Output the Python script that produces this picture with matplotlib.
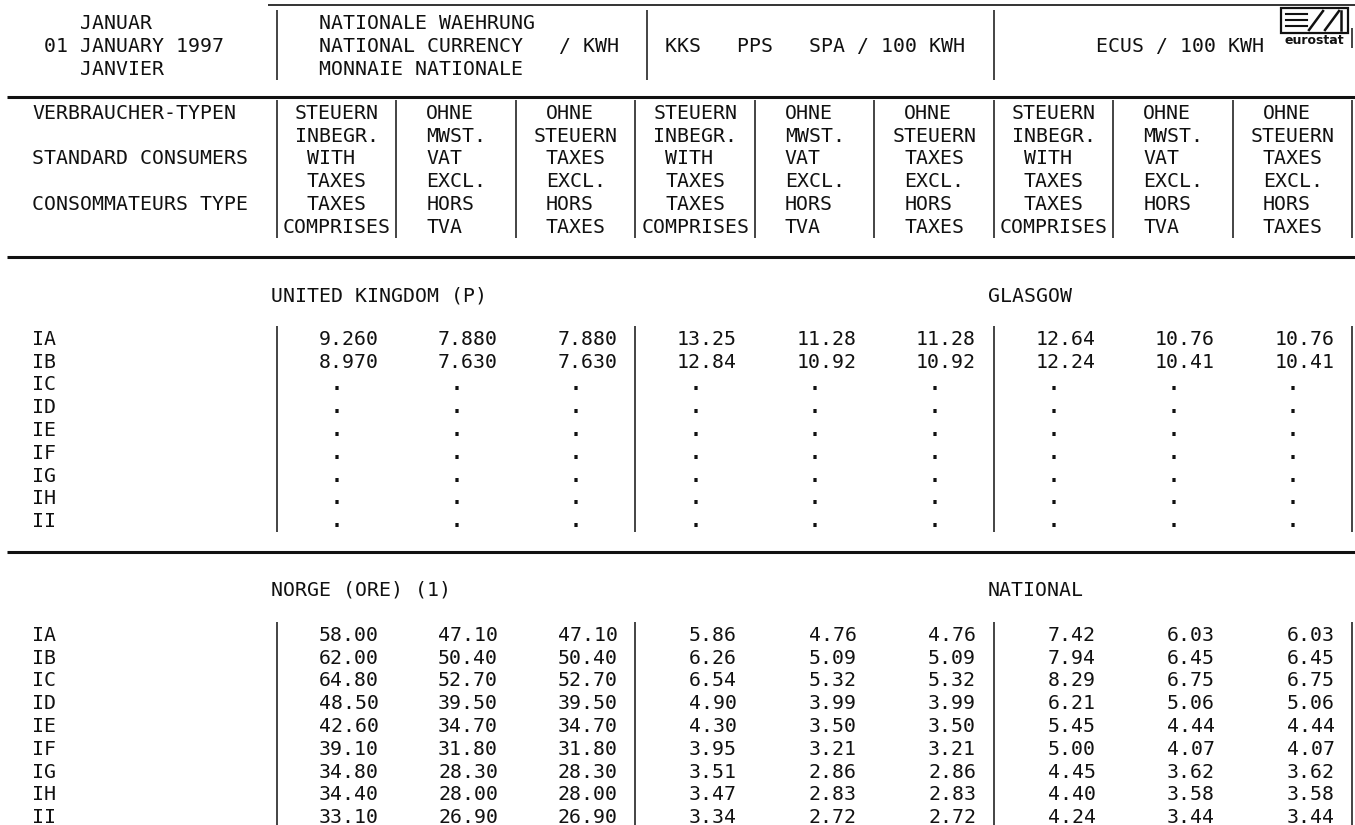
import matplotlib
matplotlib.use('Agg')
import matplotlib.pyplot as plt
from matplotlib.patches import Rectangle

# consumer types and prices (1 January 1997)
consumer_types = ['IA', 'IB', 'IC', 'ID', 'IE', 'IF', 'IG', 'IH', 'II']

# United Kingdom (P) - Glasgow, only IA and IB reported
uk_nat_with = [9.260, 8.970, None, None, None, None, None, None, None]
uk_nat_novat = [7.880, 7.630, None, None, None, None, None, None, None]
uk_nat_notax = [7.880, 7.630, None, None, None, None, None, None, None]
uk_pps_with = [13.25, 12.84, None, None, None, None, None, None, None]
uk_pps_novat = [11.28, 10.92, None, None, None, None, None, None, None]
uk_pps_notax = [11.28, 10.92, None, None, None, None, None, None, None]
uk_ecu_with = [12.64, 12.24, None, None, None, None, None, None, None]
uk_ecu_novat = [10.76, 10.41, None, None, None, None, None, None, None]
uk_ecu_notax = [10.76, 10.41, None, None, None, None, None, None, None]

# Norge (ORE) (1) - national
no_nat_with = [58.00, 62.00, 64.80, 48.50, 42.60, 39.10, 34.80, 34.40, 33.10]
no_nat_novat = [47.10, 50.40, 52.70, 39.50, 34.70, 31.80, 28.30, 28.00, 26.90]
no_nat_notax = [47.10, 50.40, 52.70, 39.50, 34.70, 31.80, 28.30, 28.00, 26.90]
no_pps_with = [5.86, 6.26, 6.54, 4.90, 4.30, 3.95, 3.51, 3.47, 3.34]
no_pps_novat = [4.76, 5.09, 5.32, 3.99, 3.50, 3.21, 2.86, 2.83, 2.72]
no_pps_notax = [4.76, 5.09, 5.32, 3.99, 3.50, 3.21, 2.86, 2.83, 2.72]
no_ecu_with = [7.42, 7.94, 8.29, 6.21, 5.45, 5.00, 4.45, 4.40, 4.24]
no_ecu_novat = [6.03, 6.45, 6.75, 5.06, 4.44, 4.07, 3.62, 3.58, 3.44]
no_ecu_notax = [6.03, 6.45, 6.75, 5.06, 4.44, 4.07, 3.62, 3.58, 3.44]

date_lines = ['JANUAR', '01 JANUARY 1997', 'JANVIER']
unit_nat = ['NATIONALE WAEHRUNG', 'NATIONAL CURRENCY   / KWH', 'MONNAIE NATIONALE']
unit_pps = 'KKS   PPS   SPA / 100 KWH'
unit_ecu = 'ECUS / 100 KWH'
consumer_labels = ['VERBRAUCHER-TYPEN', '', 'STANDARD CONSUMERS', '', 'CONSOMMATEURS TYPE', '']
hdr_with = ['STEUERN', 'INBEGR.', 'WITH', 'TAXES', 'TAXES', 'COMPRISES']
hdr_novat = ['OHNE', 'MWST.', 'VAT', 'EXCL.', 'HORS', 'TVA']
hdr_notax = ['OHNE', 'STEUERN', 'TAXES', 'EXCL.', 'HORS', 'TAXES']

# --- layout: line printer grid ---
X0, PITCH, DPI = 32, 11.95, 100
FS = PITCH / (0.602 * DPI / 72)
MONO = 'DejaVu Sans Mono'
INK = '#111111'


def xl(c):
    return X0 + PITCH * c


def xc(c):
    return X0 + PITCH * (c + 0.5)


fig = plt.figure(figsize=(13.55, 8.25), dpi=DPI)
ax = fig.add_axes([0, 0, 1, 1])
ax.set_xlim(0, 1355)
ax.set_ylim(825, 0)
ax.axis('off')


def put(col, y, s, right=False, weight='normal'):
    x = xl(col + 1) if right else xl(col)
    ax.text(x, y + 7, s, family=MONO, fontsize=FS, color=INK, fontweight=weight,
            ha='right' if right else 'left', va='baseline')


def vbar(col, y0, y1):
    ax.plot([xc(col), xc(col)], [y0, y1], color=INK, lw=1.1, solid_capstyle='butt')


def hline(y, x0, x1, lw=2.2):
    ax.plot([x0, x1], [y, y], color=INK, lw=lw, solid_capstyle='butt')


# top header
top_rows = [22, 45, 68]
put(4, top_rows[0], date_lines[0])
put(1, top_rows[1], date_lines[1])
put(4, top_rows[2], date_lines[2])
for y, s in zip(top_rows, unit_nat):
    put(24, y, s)
put(53, top_rows[1], unit_pps)
put(89, top_rows[1], unit_ecu)
for c in [20, 51, 80]:
    vbar(c, 10, 80)
vbar(110, 28, 48)
hline(5, 268, 1355, lw=1.2)
hline(97, 7, 1355)

# eurostat logo
ax.add_patch(Rectangle((1281, 8), 67, 25, fill=False, ec=INK, lw=1.6))
for yy in [14, 20, 26]:
    ax.plot([1286, 1307], [yy, yy], color=INK, lw=1.5)
ax.plot([1309, 1323], [30, 11], color=INK, lw=1.8)
ax.plot([1325, 1339], [30, 11], color=INK, lw=1.8)
ax.plot([1341, 1341], [11, 30], color=INK, lw=1.8)
ax.text(1314, 40, 'eurostat', family='DejaVu Sans', fontsize=9, fontweight='bold',
        color=INK, ha='center', va='center')

# column headers
hdr_rows = [112 + 22.75 * i for i in range(6)]
off_with = [2, 2, 3, 3, 3, 1]
off_novat = [3, 3, 3, 3, 3, 3]
off_notax = [3, 2, 3, 3, 3, 3]
for i, y in enumerate(hdr_rows):
    if consumer_labels[i]:
        put(0, y, consumer_labels[i])
    for B in [20, 50, 80]:
        put(B + off_with[i], y, hdr_with[i])
        put(B + 10 + off_novat[i], y, hdr_novat[i])
        put(B + 20 + off_notax[i], y, hdr_notax[i])
for c in range(20, 111, 10):
    vbar(c, hdr_rows[0] - 12, hdr_rows[-1] + 12)
hline(257, 7, 1355)


def block(title_y, title_l, title_r, first_y, cols, fmts):
    put(20, title_y, title_l)
    put(80, title_y, title_r)
    ys = [first_y + 22.75 * i for i in range(len(consumer_types))]
    for y, lab in zip(ys, consumer_types):
        put(0, y, lab)
    for k, (vals, fmt) in enumerate(zip(cols, fmts)):
        end_col = 28 + 10 * k
        for y, v in zip(ys, vals):
            if v is None:
                put(end_col - 3, y, '.', weight='bold')
            else:
                put(end_col, y, fmt.format(v), right=True)
    for c in [20, 50, 80, 110]:
        vbar(c, ys[0] - 12, ys[-1] + 12)


block(295, 'UNITED KINGDOM (P)', 'GLASGOW', 338,
      [uk_nat_with, uk_nat_novat, uk_nat_notax, uk_pps_with, uk_pps_novat,
       uk_pps_notax, uk_ecu_with, uk_ecu_novat, uk_ecu_notax],
      ['{:.3f}'] * 3 + ['{:.2f}'] * 6)
hline(552, 7, 1355)
block(589, 'NORGE (ORE) (1)', 'NATIONAL', 634,
      [no_nat_with, no_nat_novat, no_nat_notax, no_pps_with, no_pps_novat,
       no_pps_notax, no_ecu_with, no_ecu_novat, no_ecu_notax],
      ['{:.2f}'] * 9)

fig.savefig('out.png', dpi=DPI)
